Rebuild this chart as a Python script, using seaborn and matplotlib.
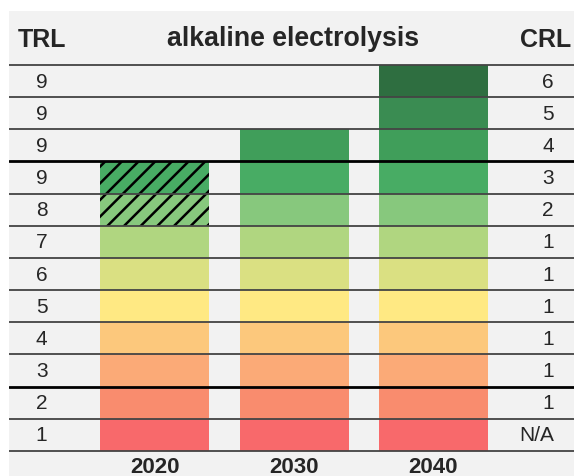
import pandas as pd
import seaborn as sns
import matplotlib.pyplot as plt

# chart data
years = ["2020", "2030", "2040"]
reached = [9, 10, 12]          # highest level reached per year
hatched_levels = [8, 9]        # hatched cells in the 2020 column
trl_labels = ["1", "2", "3", "4", "5", "6", "7", "8", "9", "9", "9", "9"]
crl_labels = ["N/A", "1", "1", "1", "1", "1", "1", "2", "3", "4", "5", "6"]
level_colors = ["#f8696b", "#f98c6e", "#fbaa77", "#fcc87c", "#ffe983", "#dae082",
                "#b0d680", "#87c87d", "#48ac64", "#409e5a", "#3a8c52", "#2e6e40"]
thick_lines = [2, 9]

sns.set_style("white")
plt.rcParams["font.family"] = ["Liberation Sans", "DejaVu Sans"]
plt.rcParams["hatch.linewidth"] = 1.8

fig = plt.figure(figsize=(5.74, 4.77), dpi=100)
ax = fig.add_axes([9 / 574, 0, 565 / 574, 465 / 477])
ax.set_facecolor("#f2f2f2")

# draw the levels as layered bars, tallest first
for k in range(len(level_colors), 0, -1):
    df = pd.DataFrame({"year": years,
                       "level": [k if r >= k else 0 for r in reached]})
    n_before = len(ax.patches)
    sns.barplot(data=df, x="year", y="level", order=years, color=level_colors[k - 1],
                saturation=1, width=0.784, linewidth=0, errorbar=None, ax=ax)
    new = ax.patches[n_before:]
    if k in hatched_levels:
        new[0].set_hatch("//")
        new[0].set_edgecolor("black")

# horizontal row lines
for y in range(0, 13):
    if y in thick_lines:
        ax.axhline(y, color="black", lw=2.0, zorder=5)
    else:
        ax.axhline(y, color="#444444", lw=1.3, zorder=5)

# row labels
for i in range(12):
    ax.text(-0.815, i + 0.5, trl_labels[i], ha="center", va="center", fontsize=15)
    ax.text(2.87, i + 0.5, crl_labels[i], ha="right", va="center", fontsize=15)

# headers
ax.text(-0.815, 12.82, "TRL", ha="center", va="center", fontsize=18, fontweight="bold")
ax.text(2.81, 12.82, "CRL", ha="center", va="center", fontsize=18, fontweight="bold")
ax.text(0.99, 12.85, "alkaline electrolysis", ha="center", va="center",
        fontsize=19.3, fontweight="bold")

# year labels
for j, yr in enumerate(years):
    ax.text(j, -0.47, yr, ha="center", va="center", fontsize=16, fontweight="bold")

ax.set_xlim(-1.050, 3.014)
ax.set_ylim(-0.78, 13.68)
ax.set_xticks([])
ax.set_yticks([])
ax.set_xlabel("")
ax.set_ylabel("")
for s in ax.spines.values():
    s.set_visible(False)

fig.savefig("out.png", dpi=100, facecolor="white")
